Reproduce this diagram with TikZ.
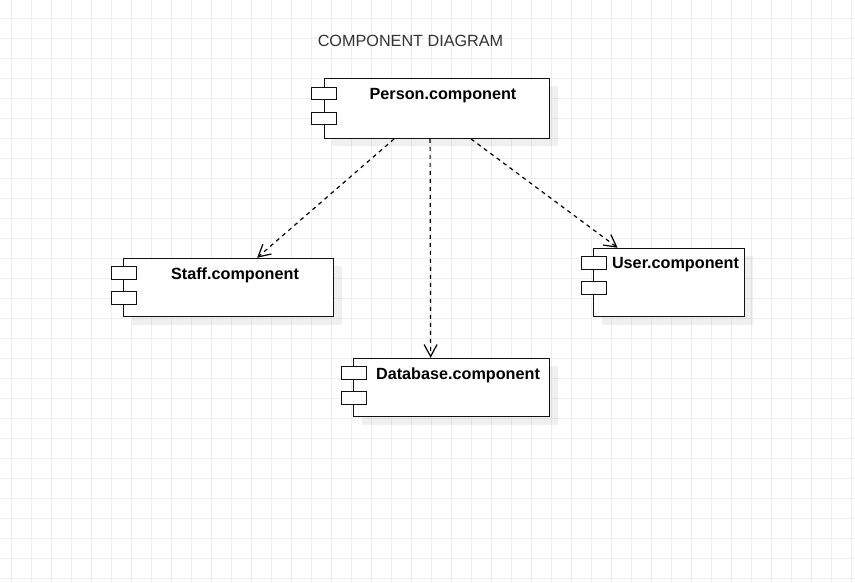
\documentclass[tikz,border=0pt]{standalone}
\usepackage{fontspec}
\setmainfont{Liberation Sans}
\usetikzlibrary{arrows.meta,shadows}
\definecolor{gridgrey}{HTML}{EEEEEE}
\definecolor{titlegrey}{HTML}{333333}
\definecolor{linedark}{HTML}{111111}
\tikzset{
  compbox/.style={draw=linedark,fill=white,line width=1.2pt,inner sep=0pt,anchor=north west,
    drop shadow={shadow xshift=8pt,shadow yshift=-8pt,fill=black,opacity=0.06}},
  compport/.style={draw=linedark,fill=white,line width=1.2pt,inner sep=0pt,anchor=north west,
    minimum width=25pt,minimum height=12.5pt},
  complabel/.style={font=\bfseries\fontsize{16.2}{18}\selectfont,text=black,inner sep=0pt,anchor=center},
  titletext/.style={font=\fontsize{16.2}{18}\selectfont,text=titlegrey,inner sep=0pt,anchor=center},
  dependency/.style={draw=black,line width=1.2pt,dash pattern=on 4pt off 4pt,
    -{Straight Barb[length=12pt,width=13pt,line width=1.2pt]}},
}
\begin{document}
\begin{tikzpicture}[x=1pt,y=-1pt]
\useasboundingbox (0,0) rectangle (855,583);
\fill[white] (0,0) rectangle (855,583);
% background grid
\foreach \gx in {11.5,31.5,...,851.5} \draw[gridgrey,line width=1pt] (\gx,0) -- (\gx,583);
\foreach \gy in {18.5,38.5,...,578.5} \draw[gridgrey,line width=1pt] (0,\gy) -- (855,\gy);
% title
\node[titletext] (title) at (410.5,41) {COMPONENT DIAGRAM};
% components
\node[compbox,minimum width=225.75pt,minimum height=60pt] (person) at (323.5,77.75) {};
\node[compbox,minimum width=209.75pt,minimum height=58.5pt] (staff) at (123.25,257.75) {};
\node[compbox,minimum width=150.75pt,minimum height=68.5pt] (user) at (593.25,247.75) {};
\node[compbox,minimum width=195.75pt,minimum height=58.5pt] (database) at (353.25,357.75) {};
% ports
\node[compport] (personA) at (310.5,86.75) {};
\node[compport] (personB) at (310.5,111.75) {};
\node[compport] (staffA) at (110.5,266) {};
\node[compport] (staffB) at (110.5,291) {};
\node[compport] (userA) at (580.5,256) {};
\node[compport] (userB) at (580.5,281) {};
\node[compport] (databaseA) at (340.5,366) {};
\node[compport] (databaseB) at (340.5,391) {};
% labels
\node[complabel] (personL) at (443,95.75) {Person.component};
\node[complabel] (staffL) at (235,275) {Staff.component};
\node[complabel] (userL) at (675.5,265) {User.component};
\node[complabel] (databaseL) at (458,375) {Database.component};
% connectors
\draw[dependency] ([xshift=-42.9pt]person.south) -- ([xshift=28.4pt]staff.north);
\draw[dependency] ([xshift=-6.9pt]person.south) -- ([xshift=-21.1pt]database.north);
\draw[dependency] ([xshift=34.1pt]person.south) -- ([xshift=-51.6pt]user.north);
\end{tikzpicture}
\end{document}
